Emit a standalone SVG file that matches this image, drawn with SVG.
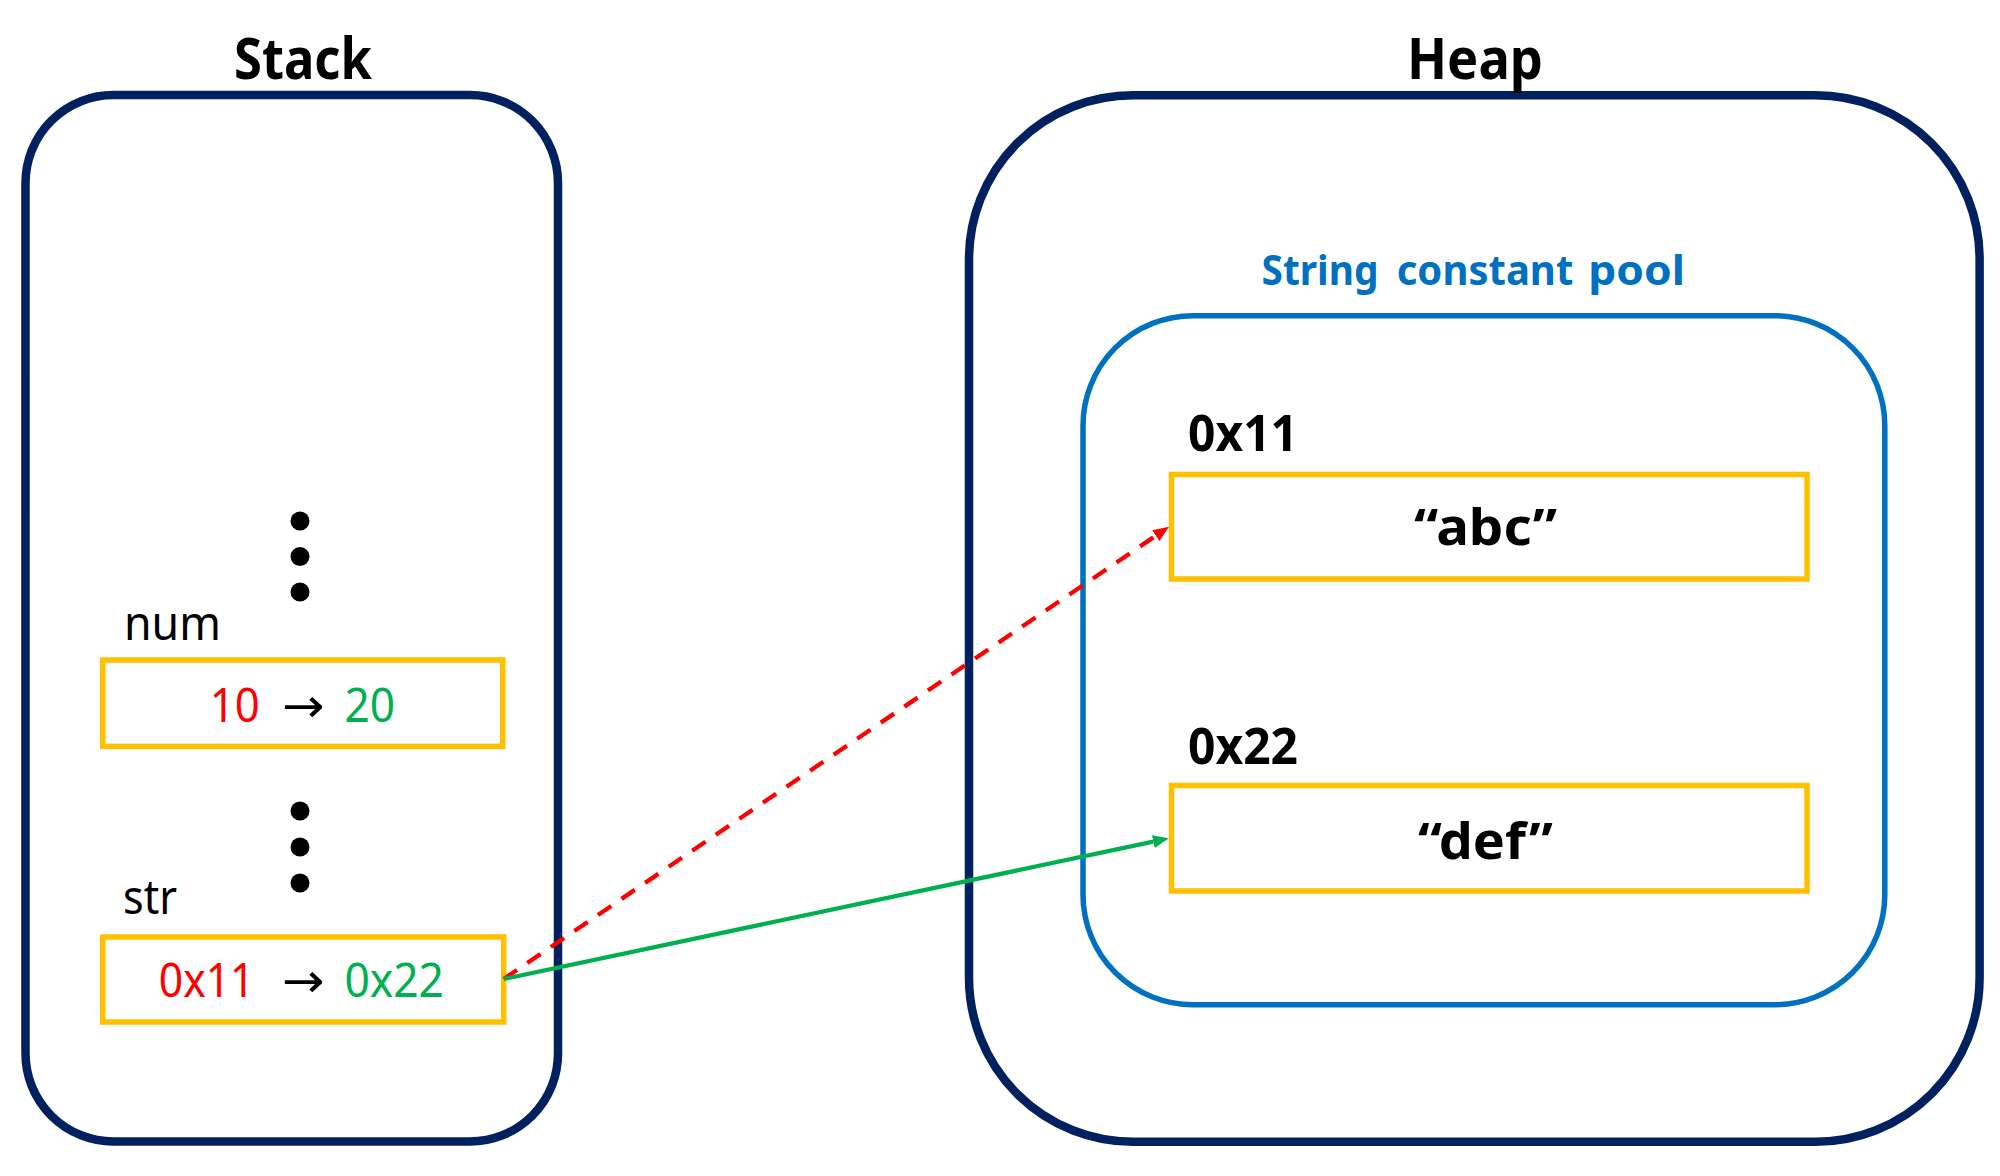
<svg xmlns="http://www.w3.org/2000/svg" width="2000" height="1176" viewBox="0 0 2000 1176">
  <style>
    .region { fill: none; stroke: #002060; stroke-width: 8.5; }
    .pool { fill: none; stroke: #0070C0; stroke-width: 5.5; }
    .slot { fill: none; stroke: #FFC000; stroke-width: 5.5; }
    .t { font-family: "Noto Sans", "DejaVu Sans", sans-serif; }
    .b { font-weight: bold; }
    .title { font-size: 57px; fill: #000; }
    .var { font-size: 48px; fill: #000; }
    .val { font-size: 47px; }
    .red { fill: #FF0000; }
    .green { fill: #00B050; }
    .blk { fill: #000; }
    .addr { font-size: 51px; fill: #000; }
    .str { font-size: 51px; fill: #000; }
    .pooltitle { font-size: 42px; fill: #0070C0; }
    .dot { fill: #000; }
    .conn { fill: none; stroke-width: 4.3; }
  </style>
  <defs>
    <marker id="ahRed" markerUnits="userSpaceOnUse" markerWidth="16" markerHeight="13" refX="0" refY="6.5" orient="auto">
      <path d="M0,0 L16,6.5 L0,13 z" fill="#FF0000"/>
    </marker>
    <marker id="ahGreen" markerUnits="userSpaceOnUse" markerWidth="16" markerHeight="13" refX="0" refY="6.5" orient="auto">
      <path d="M0,0 L16,6.5 L0,13 z" fill="#00B050"/>
    </marker>
  </defs>
  <rect width="2000" height="1176" fill="#FFFFFF"/>

  <g id="stack">
    <rect class="region" x="25.5" y="95" width="532.5" height="1046.5" rx="88" ry="88"/>
    <text class="t b title" x="234" y="79" textLength="138" lengthAdjust="spacingAndGlyphs">Stack</text>
  </g>

  <g id="stack-dots-1">
    <circle class="dot" cx="300" cy="521" r="9.5"/>
    <circle class="dot" cx="300" cy="556.5" r="9.5"/>
    <circle class="dot" cx="300" cy="592" r="9.5"/>
  </g>

  <g id="num-slot">
    <text class="t var" x="124" y="640" textLength="97" lengthAdjust="spacingAndGlyphs">num</text>
    <rect class="slot" x="102.8" y="660" width="400" height="86.4"/>
    <text class="t val" y="722"><tspan class="red" x="209.7" textLength="50" lengthAdjust="spacingAndGlyphs">10</tspan><tspan class="blk" x="282" textLength="42.5" lengthAdjust="spacingAndGlyphs">→</tspan><tspan class="green" x="344.4" textLength="50.6" lengthAdjust="spacingAndGlyphs">20</tspan></text>
  </g>

  <g id="stack-dots-2">
    <circle class="dot" cx="300" cy="811" r="9.5"/>
    <circle class="dot" cx="300" cy="847" r="9.5"/>
    <circle class="dot" cx="300" cy="883" r="9.5"/>
  </g>

  <g id="str-slot">
    <text class="t var" x="123" y="914" textLength="54" lengthAdjust="spacingAndGlyphs">str</text>
    <rect class="slot" x="102.8" y="937" width="400.9" height="85"/>
    <text class="t val" y="997"><tspan class="red" x="158.8" textLength="95.7" lengthAdjust="spacingAndGlyphs">0x11</tspan><tspan class="blk" x="282" textLength="42.5" lengthAdjust="spacingAndGlyphs">→</tspan><tspan class="green" x="344.4" textLength="99.6" lengthAdjust="spacingAndGlyphs">0x22</tspan></text>
  </g>

  <g id="heap">
    <rect class="region" x="969" y="95.3" width="1010.6" height="1046.5" rx="164" ry="164"/>
    <text class="t b title" x="1407" y="78.5" textLength="136" lengthAdjust="spacingAndGlyphs">Heap</text>
  </g>

  <g id="string-constant-pool">
    <rect class="pool" x="1083" y="315.7" width="801.8" height="689" rx="110" ry="110"/>
    <text class="t b pooltitle" y="285"><tspan x="1261.5" textLength="117" lengthAdjust="spacingAndGlyphs">String</tspan> <tspan x="1396.7" textLength="176.6" lengthAdjust="spacingAndGlyphs">constant</tspan> <tspan x="1588.3" textLength="96.7" lengthAdjust="spacingAndGlyphs">pool</tspan></text>
  </g>

  <g id="obj-abc">
    <text class="t b addr" x="1188" y="451" textLength="110" lengthAdjust="spacingAndGlyphs">0x11</text>
    <rect class="slot" x="1171.5" y="474.5" width="635.5" height="104.5"/>
    <text class="t b str" x="1414" y="544.5" textLength="143" lengthAdjust="spacingAndGlyphs">“abc”</text>
  </g>

  <g id="obj-def">
    <text class="t b addr" x="1188" y="763.5" textLength="110" lengthAdjust="spacingAndGlyphs">0x22</text>
    <rect class="slot" x="1171.5" y="785.5" width="635.5" height="105.5"/>
    <text class="t b str" x="1418" y="858.5" textLength="135" lengthAdjust="spacingAndGlyphs">“def”</text>
  </g>

  <g id="connectors">
    <line class="conn" x1="503.7" y1="979" x2="1155.8" y2="535.7" stroke="#FF0000" stroke-dasharray="16 12.5" marker-end="url(#ahRed)"/>
    <line class="conn" x1="503.7" y1="979" x2="1153.3" y2="841.6" stroke="#00B050" marker-end="url(#ahGreen)"/>
  </g>
</svg>
